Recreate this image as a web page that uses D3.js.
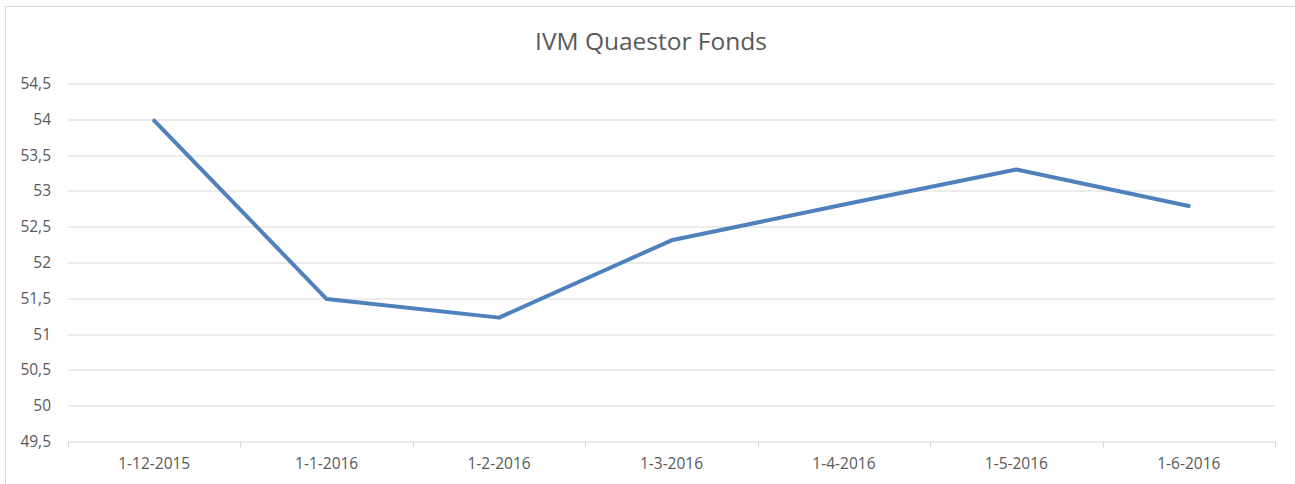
<!DOCTYPE html>
<meta charset="utf-8">
<script src="https://d3js.org/d3.v7.min.js"></script>
<style>
  body { margin: 0; background: #fff; }
  text { font-family: "Open Sans", "Noto Sans", sans-serif; fill: #595959; }
</style>
<body>
<div id="chart"></div>
<script>
// data
var dates = ["1-12-2015", "1-1-2016", "1-2-2016", "1-3-2016", "1-4-2016", "1-5-2016", "1-6-2016"];
var koers = [53.98, 51.49, 51.23, 52.31, 52.81, 53.30, 52.79];
var yTicks = [49.5, 50, 50.5, 51, 51.5, 52, 52.5, 53, 53.5, 54, 54.5];

var W = 1295, H = 484;
var margin = {top: 83.5, right: 20, bottom: 42.5, left: 68};
var width = 1275 - margin.left,
    height = 441.5 - margin.top;

var svg = d3.select("#chart")
  .append("svg")
    .attr("width", W)
    .attr("height", H);

// chart area border
svg.append("rect")
  .attr("x", 5.5).attr("y", 6.5)
  .attr("width", W).attr("height", H)
  .attr("fill", "none")
  .attr("stroke", "#d9d9d9");

var g = svg.append("g")
  .attr("transform", "translate(" + margin.left + "," + margin.top + ")");

var x = d3.scaleBand()
  .domain(dates)
  .range([0, width]);

var y = d3.scaleLinear()
  .domain([49.5, 54.5])
  .range([height, 0]);

var fmt = function(d) { return String(d).replace(".", ","); };

// gridlines
g.selectAll(".grid")
  .data(yTicks)
  .enter().append("line")
    .attr("x1", 0).attr("x2", width)
    .attr("y1", function(d) { return Math.round(y(d)) + 0.5; })
    .attr("y2", function(d) { return Math.round(y(d)) + 0.5; })
    .attr("stroke", "#d9d9d9")
    .attr("stroke-width", 1);

// y labels
g.selectAll(".ylab")
  .data(yTicks)
  .enter().append("text")
    .attr("x", -17)
    .attr("y", function(d) { return y(d); })
    .attr("dy", "0.35em")
    .attr("text-anchor", "end")
    .style("font-size", "15.5px")
    .text(fmt);

// x axis
var xAxis = g.append("g")
  .attr("transform", "translate(0," + (Math.round(height) + 0.5) + ")")
  .call(d3.axisBottom(x).tickSize(0).tickPadding(16));
xAxis.select(".domain").remove();
xAxis.selectAll("text").style("font-size", "15.5px").attr("fill", "#595959");

// tick marks at category boundaries
var bounds = dates.map(function(d) { return x(d); }).concat([width]);
g.selectAll(".xtick")
  .data(bounds)
  .enter().append("line")
    .attr("x1", function(d) { return Math.round(d) + 0.5; })
    .attr("x2", function(d) { return Math.round(d) + 0.5; })
    .attr("y1", height)
    .attr("y2", height + 6)
    .attr("stroke", "#d9d9d9");

// the line
g.append("path")
  .datum(koers)
  .attr("fill", "none")
  .attr("stroke", "#4f81bd")
  .attr("stroke-width", 4)
  .attr("stroke-linejoin", "round")
  .attr("stroke-linecap", "round")
  .attr("d", d3.line()
    .x(function(d, i) { return x(dates[i]) + x.bandwidth() / 2; })
    .y(function(d) { return y(d); }));

// title
svg.append("text")
  .attr("x", 651)
  .attr("y", 50)
  .attr("text-anchor", "middle")
  .style("font-size", "24.5px")
  .text("IVM Quaestor Fonds");
</script>
</body>
